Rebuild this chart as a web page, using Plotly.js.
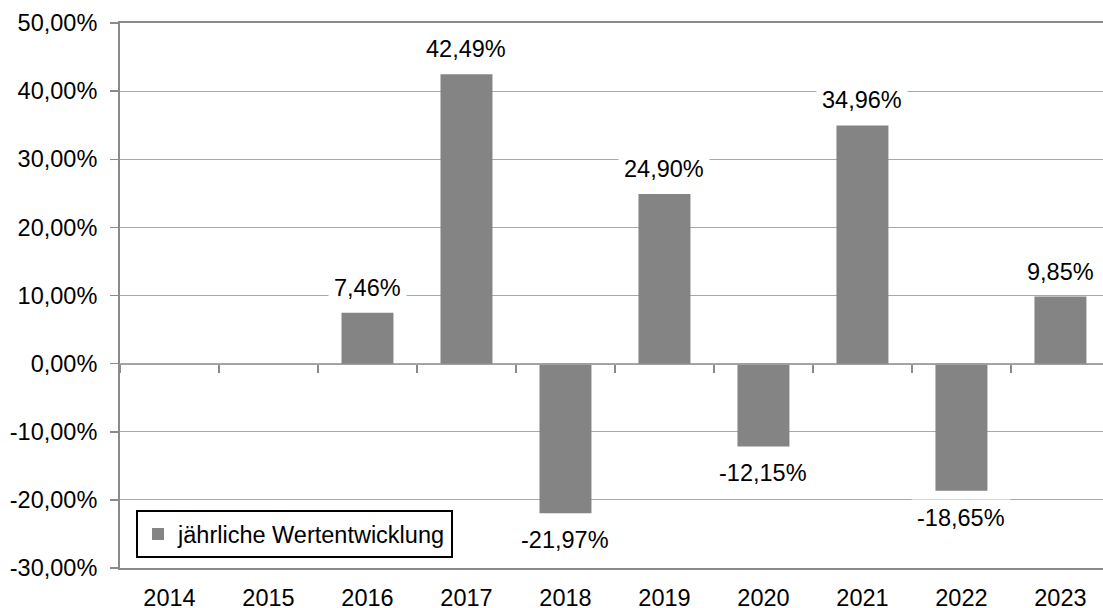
<!DOCTYPE html>
<html>
<head>
<meta charset="utf-8">
<script src="https://cdn.plot.ly/plotly-3.0.1.min.js"></script>
<style>
html,body{margin:0;padding:0;background:#fff;overflow:hidden;}
#chart{width:1103px;height:608px;}
</style>
</head>
<body>
<div id="chart"></div>
<script>
const years = ['2014','2015','2016','2017','2018','2019','2020','2021','2022','2023'];
const returns = [null, null, 7.46, 42.49, -21.97, 24.90, -12.15, 34.96, -18.65, 9.85];
const seriesName = 'jährliche Wertentwicklung';
const yTicks = [-30, -20, -10, 0, 10, 20, 30, 40, 50];

const PCT = '\u0025';
const FONT = 'Liberation Sans, Arial, sans-serif';
const FS = 23.5;
const fmt = v => v.toFixed(2).replace('.', ',') + PCT;

const barTrace = {
  type: 'bar',
  x: years,
  y: returns,
  name: seriesName,
  marker: {color: '#848484', line: {width: 0}},
  hoverinfo: 'skip',
  showlegend: true
};
const dummy = {
  type: 'bar', x: years, y: years.map(() => null),
  xaxis: 'x2', yaxis: 'y', showlegend: false, hoverinfo: 'skip'
};

const annotations = [];
for (let i = 0; i < years.length; i++) {
  const v = returns[i];
  if (v === null) continue;
  annotations.push({
    x: i, y: v, xref: 'x', yref: 'y',
    text: fmt(v), showarrow: false,
    yanchor: 'middle', xanchor: 'center',
    yshift: v >= 0 ? 25 : -27,
    bgcolor: '#ffffff', borderpad: 5,
    font: {family: FONT, size: FS, color: '#000000'}
  });
}

const xr = [-0.5, 9.43];
const layout = {
  width: 1103, height: 608,
  margin: {l: 120, r: 0, t: 23, b: 40},
  paper_bgcolor: '#fff', plot_bgcolor: '#fff',
  separators: ',.',
  bargap: 0.475,
  font: {family: FONT, size: FS, color: '#000'},
  showlegend: true,
  legend: {
    x: 0.0163, y: 0.106, xanchor: 'left', yanchor: 'top',
    bgcolor: '#fff', bordercolor: '#000', borderwidth: 2,
    font: {family: FONT, size: FS, color: '#000'},
    itemwidth: 30
  },
  xaxis: {
    type: 'category', categoryorder: 'array', categoryarray: years,
    range: xr, showgrid: false, zeroline: false,
    showline: true, linecolor: '#8a8a8a', linewidth: 2, mirror: true,
    ticks: '', ticklabelstandoff: 8,
    tickfont: {family: FONT, size: FS, color: '#000'},
    fixedrange: true
  },
  xaxis2: {
    type: 'category', categoryorder: 'array', categoryarray: years,
    overlaying: 'x', anchor: 'free', position: 0.375,
    range: xr, showgrid: false, zeroline: false,
    showline: true, linecolor: '#a0a0a0', linewidth: 1.5,
    ticks: 'outside', tickson: 'boundaries', ticklen: 8, tickwidth: 1.5, tickcolor: '#8a8a8a',
    showticklabels: false, fixedrange: true
  },
  yaxis: {
    range: [-30, 50], tickmode: 'array', tickvals: yTicks,
    ticktext: yTicks.map(fmt),
    showgrid: true, gridcolor: '#a8a8a8', gridwidth: 1.2,
    zeroline: false,
    showline: true, linecolor: '#8a8a8a', linewidth: 2,
    ticks: 'outside', ticklen: 8, tickwidth: 1.5, tickcolor: '#8a8a8a',
    ticklabelstandoff: 8,
    tickfont: {family: FONT, size: FS, color: '#000'},
    fixedrange: true
  },
  annotations: annotations
};

Plotly.newPlot('chart', [barTrace, dummy], layout, {displayModeBar: false, staticPlot: true});
</script>
</body>
</html>
